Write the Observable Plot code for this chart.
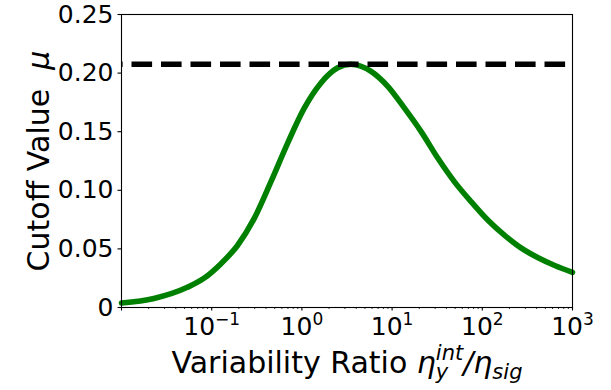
<!DOCTYPE html>
<html><head><meta charset="utf-8">
<script src="https://cdn.jsdelivr.net/npm/d3@7"></script>
<script src="https://cdn.jsdelivr.net/npm/@observablehq/plot@0.6"></script>
<style>body{margin:0;background:#fff}</style>
</head><body><div id="chart"></div>
<script>
// Variability ratio (x, log scale) and cutoff value (y)
const ratio  = [0.01, 0.02286, 0.0537, 0.082, 0.1259, 0.1932, 0.2951, 0.4529, 0.6934, 1.062, 1.626, 2.495, 3.499, 5.848, 8.954, 13.71, 20.99, 32.21, 49.2, 75.5, 115.6, 177.0, 271.0, 415.9, 635.3, 1000];
const cutoff = [0.0038, 0.0077, 0.0172, 0.0249, 0.0372, 0.0529, 0.0758, 0.1072, 0.1401, 0.1701, 0.1916, 0.2045, 0.2076, 0.2015, 0.1887, 0.1701, 0.1501, 0.1273, 0.1072, 0.0901, 0.0744, 0.0615, 0.0506, 0.0424, 0.0358, 0.0300];
const maxCutoff = [0.2076];

const yTicks = [0, 0.05, 0.1, 0.15, 0.2, 0.25];
const yTickLabels = ["0", "0.05", "0.10", "0.15", "0.20", "0.25"];
const xTicks = [0.01, 0.1, 1, 10, 100, 1000];
const xTickLabels = ["", "10^\u22121", "10^0", "10^1", "10^2", "10^3"];
const yLabelText = "Cutoff Value \u03bc";
const xLabelText = "Variability Ratio \u03b7yint/\u03b7sig";

const xMinorTicks = [];
for (let e = -2; e < 3; e++) for (let m = 2; m <= 9; m++) xMinorTicks.push(m * Math.pow(10, e));

const data = ratio.map((r, i) => ({ratio: r, cutoff: cutoff[i]}));

const chart = Plot.plot({
  width: 611, height: 390,
  marginLeft: 121, marginRight: 39, marginTop: 14, marginBottom: 83,
  style: {fontFamily: "DejaVu Sans", background: "white", color: "black"},
  x: {type: "log", domain: [0.01, 1000]},
  y: {domain: [0, 0.25]},
  marks: [
    Plot.line(data, {x: "ratio", y: "cutoff", stroke: "#008000", strokeWidth: 5.6, curve: "monotone-x"}),
    Plot.ruleY(maxCutoff, {stroke: "black", strokeWidth: 5.6, strokeDasharray: "20.6,8.9", strokeDashoffset: 19}),
    Plot.frame({stroke: "black", strokeWidth: 1.1}),
    Plot.axisY(yTicks, {tickSize: 3.5, tickPadding: 4.5, fontSize: 25, strokeWidth: 1.1,
      tickFormat: d => yTickLabels[yTicks.indexOf(d)], label: null}),
    Plot.axisX(xTicks, {tickSize: 3.5, tickPadding: 6, fontSize: 25, strokeWidth: 1.1,
      tickFormat: d => xTickLabels[xTicks.indexOf(d)], label: null}),
    Plot.axisX(xMinorTicks, {tickSize: 2, strokeWidth: 0.8, tickFormat: () => "", label: null}),
    Plot.text([yLabelText], {frameAnchor: "left", dx: -73, rotate: -90, textAnchor: "middle", lineAnchor: "bottom", fontSize: 30}),
    Plot.text([xLabelText], {frameAnchor: "bottom", dy: 65, lineAnchor: "bottom", fontSize: 30})
  ]
});
document.getElementById("chart").appendChild(chart);

const ns = "http://www.w3.org/2000/svg";
function tspan(parent, txt, attrs = {}) {
  const s = document.createElementNS(ns, "tspan");
  s.textContent = txt;
  for (const k in attrs) s.setAttribute(k, attrs[k]);
  parent.appendChild(s);
  return s;
}
chart.querySelectorAll("text").forEach(t => {
  const c = t.textContent;
  if (c.startsWith("10^")) {
    const exp = c.slice(3);
    t.textContent = "";
    tspan(t, "10");
    tspan(t, exp, {"font-size": 17, dy: -9.5});
  } else if (c === yLabelText) {
    t.textContent = "";
    tspan(t, "Cutoff Value \u00a0");
    tspan(t, "\u03bc", {"font-style": "italic"});
  } else if (c === xLabelText) {
    t.textContent = "";
    tspan(t, "Variability Ratio ");
    tspan(t, "\u03b7", {"font-style": "italic"});
    const sub = tspan(t, "y", {"font-style": "italic", "font-size": 21, dy: 6.5});
    const w = sub.getComputedTextLength();
    tspan(t, "int", {"font-style": "italic", "font-size": 21, dx: -w, dy: -19});
    tspan(t, "/", {"font-style": "italic", dy: 12.5});
    tspan(t, "\u03b7", {"font-style": "italic"});
    tspan(t, "sig", {"font-style": "italic", "font-size": 21, dy: 6.5});
  }
});
</script>
</body></html>
